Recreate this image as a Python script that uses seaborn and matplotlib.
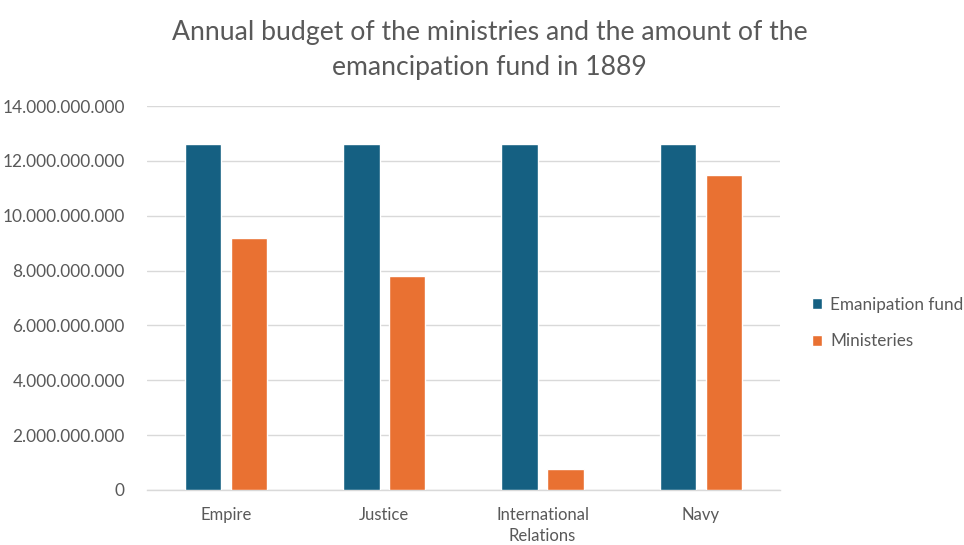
import matplotlib
matplotlib.use("Agg")
import matplotlib.pyplot as plt
import matplotlib.ticker as mticker
import seaborn as sns
import pandas as pd

categories = ["Empire", "Justice", "International\nRelations", "Navy"]
fund_values = [12_620_000_000, 12_620_000_000, 12_620_000_000, 12_620_000_000]
ministry_values = [9_180_000_000, 7_800_000_000, 770_000_000, 11_480_000_000]
series_names = ["Emanipation fund", "Ministeries"]

df = pd.DataFrame({
    "category": categories * 2,
    "value": fund_values + ministry_values,
    "series": [series_names[0]] * 4 + [series_names[1]] * 4,
})

sns.set_theme(style="white")
plt.rcParams["font.family"] = ["Lato", "DejaVu Sans"]

text_color = "#595959"
fig = plt.figure(figsize=(9.64, 5.45), dpi=100)
ax = fig.add_axes([0.1525, 0.101, 0.809 - 0.1525, 0.8055 - 0.101])

sns.barplot(data=df, x="category", y="value", hue="series",
            palette=["#156082", "#E97132"], width=0.58, gap=0.21,
            ax=ax, saturation=1, zorder=3)

ax.set_ylim(0, 14_000_000_000)
ax.set_xlim(-0.5, 3.5)
ax.yaxis.set_major_locator(mticker.MultipleLocator(2_000_000_000))
ax.yaxis.set_major_formatter(mticker.FuncFormatter(lambda v, p: f"{int(round(v)):,}".replace(",", ".")))
ax.grid(axis="y", color="#D9D9D9", linewidth=1.0, zorder=0)
for s in ["top", "right", "left"]:
    ax.spines[s].set_visible(False)
ax.spines["bottom"].set_color("#D9D9D9")
ax.spines["bottom"].set_linewidth(1.0)
ax.tick_params(axis="y", length=0, labelsize=12.4, colors=text_color, pad=16)
ax.tick_params(axis="x", length=0, labelsize=12, colors=text_color, pad=12)
for lbl in ax.get_xticklabels():
    lbl.set_linespacing(1.45)
ax.set_xlabel("")
ax.set_ylabel("")

ax.legend(loc="center left", bbox_to_anchor=(812 / 964, 1 - 323 / 545),
          bbox_transform=fig.transFigure, frameon=False,
          fontsize=12.3, labelcolor=text_color, handlelength=0.6, handleheight=0.6,
          handletextpad=0.45, labelspacing=1.2, borderaxespad=0, borderpad=0)

fig.suptitle("Annual budget of the ministries and the amount of the\nemancipation fund in 1889",
             x=0.508, y=0.963, fontsize=19.2, color=text_color, linespacing=1.5)

fig.savefig("out.png", dpi=100, facecolor="white")
